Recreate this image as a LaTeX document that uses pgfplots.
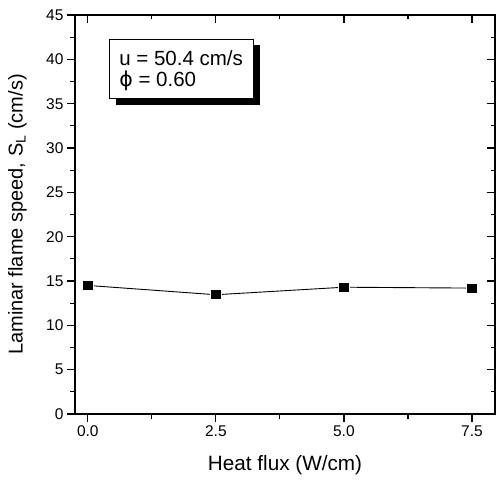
\documentclass[border=0pt]{standalone}
\usepackage{pgfplots}
\pgfplotsset{compat=1.18}
\usepackage{fontspec}
\setmainfont{Liberation Sans}
\newfontfamily\dejavu{DejaVu Sans}

\pgfplotsset{
  frame/.style={
    width=420pt, height=399pt, scale only axis,
    xmin=-0.25, xmax=7.95, ymin=0, ymax=45,
    xtick={0,2.5,5,7.5}, ytick={0,5,...,45},
    minor x tick num=1, minor y tick num=1,
    axis line style={line width=1.2pt},
    major tick length=8pt, minor tick length=4.5pt,
    every tick/.style={black, line width=1.2pt},
  }
}

\begin{document}
\begin{tikzpicture}
\begin{axis}[
    frame, name=main,
    tick align=outside,
    xtick pos=bottom, ytick pos=left,
    /pgf/number format/assume math mode=true,
    ticklabel style={font=\fontsize{15.5}{18}\selectfont},
    xticklabel style={/pgf/number format/.cd, fixed, fixed zerofill, precision=1},
    yticklabel style={/pgf/number format/.cd, fixed, precision=0},
    xlabel={Heat flux (W/cm)},
    ylabel={Laminar flame speed, S\textsubscript{L} (cm/s)},
    label style={font=\fontsize{20}{24}\selectfont},
    xlabel style={at={(axis description cs:0.5,-0.128)}, anchor=center, font=\fontsize{20.7}{24}\selectfont},
    ylabel style={at={(axis description cs:-0.137,0.5)}, anchor=center},
]
\addplot[black, line width=0.9pt, mark=square*, mark size=5.1pt,
         mark options={fill=black, draw=white, line width=0.8pt}]
  coordinates {(0,14.5) (2.5,13.45) (5,14.3) (7.5,14.2)};

% text box with shadow
\fill[black] ([shift={(7pt,-6pt)}]axis description cs:0.0817,0.940) rectangle ([shift={(7pt,-6pt)}]axis description cs:0.4245,0.790);
\draw[fill=white, line width=0.8pt] (axis description cs:0.0817,0.940) rectangle (axis description cs:0.4245,0.790);
\node[anchor=west, inner sep=0pt, font=\fontsize{20.5}{24}\selectfont] at (axis description cs:0.105,0.893) {u = 50.4 cm/s};
\node[anchor=west, inner sep=0pt, font=\fontsize{20.5}{24}\selectfont] at (axis description cs:0.105,0.836) {{\dejavu ϕ} = 0.60};
\end{axis}
\begin{axis}[
    frame,
    tick align=inside,
    xtick pos=top, ytick pos=right,
    xticklabels={}, yticklabels={},
]
\end{axis}
\pgfresetboundingbox
\path[use as bounding box] ([shift={(-75pt,-65pt)}]main.south west) rectangle ([shift={(2pt,15pt)}]main.north east);
\end{tikzpicture}
\end{document}
